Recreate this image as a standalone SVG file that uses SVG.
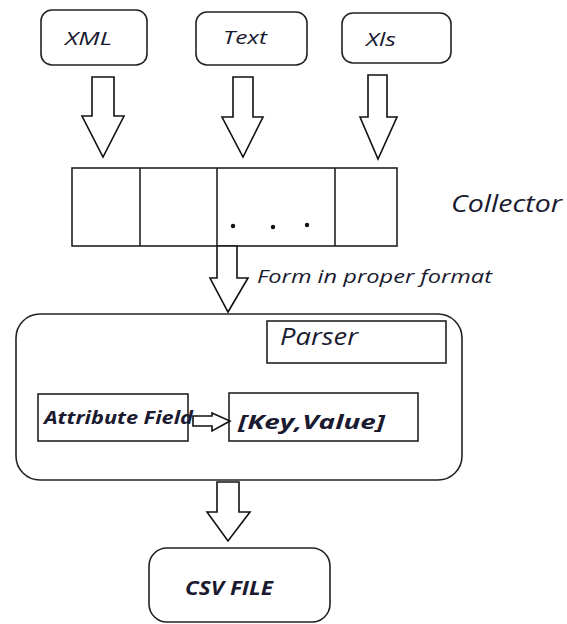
<svg xmlns="http://www.w3.org/2000/svg" width="567" height="624" viewBox="0 0 567 624">
<style>
.box{fill:#fff;stroke:#222;stroke-width:1.6}
.arr{fill:#fff;stroke:#111;stroke-width:1.6;stroke-linejoin:miter}
.ln{stroke:#222;stroke-width:1.6}
.t{font-family:"Open Sans","Liberation Sans",sans-serif;font-style:italic;fill:#1a1a30}
.b{font-weight:bold}
</style>
<rect width="567" height="624" fill="#fff"/>
<g id="xml"><rect class="box" x="41" y="10" width="106" height="55" rx="11"/><text class="t" x="65" y="45" font-size="19" textLength="47" lengthAdjust="spacingAndGlyphs">XML</text></g>
<g id="text"><rect class="box" x="196" y="12" width="111" height="53" rx="11"/><text class="t" x="223" y="44" font-size="19" textLength="44" lengthAdjust="spacingAndGlyphs">Text</text></g>
<g id="xls"><rect class="box" x="342" y="13" width="109" height="50" rx="11"/><text class="t" x="366" y="46" font-size="19" textLength="30" lengthAdjust="spacingAndGlyphs">Xls</text></g>
<g id="collector">
<rect class="box" x="72" y="168" width="325" height="78"/>
<line class="ln" x1="140" y1="168" x2="140" y2="246"/>
<line class="ln" x1="217" y1="168" x2="217" y2="246"/>
<line class="ln" x1="335" y1="168" x2="335" y2="246"/>
<circle cx="233" cy="226" r="2.2" fill="#111"/>
<circle cx="273" cy="227" r="2.2" fill="#111"/>
<circle cx="307" cy="225" r="2.2" fill="#111"/>
<text class="t" x="451" y="212" font-size="23" textLength="111" lengthAdjust="spacingAndGlyphs">Collector</text>
</g>
<g id="parser">
<rect class="box" x="16" y="314" width="446" height="166" rx="24"/>
<g id="parser-label"><rect class="box" x="267" y="321" width="179" height="42"/><text class="t" x="280" y="345" font-size="23" textLength="78" lengthAdjust="spacingAndGlyphs">Parser</text></g>
<g id="attribute"><rect class="box" x="38" y="394" width="150" height="47"/><text class="t b" x="44" y="424" font-size="17" textLength="149" lengthAdjust="spacingAndGlyphs">Attribute Field</text></g>
<g id="keyvalue"><rect class="box" x="229" y="393" width="189" height="48"/><text class="t b" x="238" y="429" font-size="20" textLength="147" lengthAdjust="spacingAndGlyphs">[Key,Value]</text></g>
</g>
<g id="csv"><rect class="box" x="149" y="548" width="181" height="74" rx="18"/><text class="t b" x="185" y="595" font-size="20" textLength="88" lengthAdjust="spacingAndGlyphs">CSV FILE</text></g>
<g id="connectors">
<polygon class="arr" points="92,77 114,77 114,116 124,116 103,157 82,116 92,116"/>
<polygon class="arr" points="233,77 253,77 253,117 263,117 243,157 222,117 233,117"/>
<polygon class="arr" points="368,75 387,75 387,117 397,117 378,159 360,117 368,117"/>
<polygon class="arr" points="217,246 237,246 237,278 248,278 228,312 210,278 217,278"/>
<text class="t" x="257" y="283" font-size="18" textLength="235" lengthAdjust="spacingAndGlyphs">Form in proper format</text>
<polygon class="arr" points="193,416 212,416 212,413 230,421 212,431 212,426 193,426"/>
<polygon class="arr" points="217,482 239,482 239,512 250,512 228,541 207,512 217,512"/>
</g>
</svg>
